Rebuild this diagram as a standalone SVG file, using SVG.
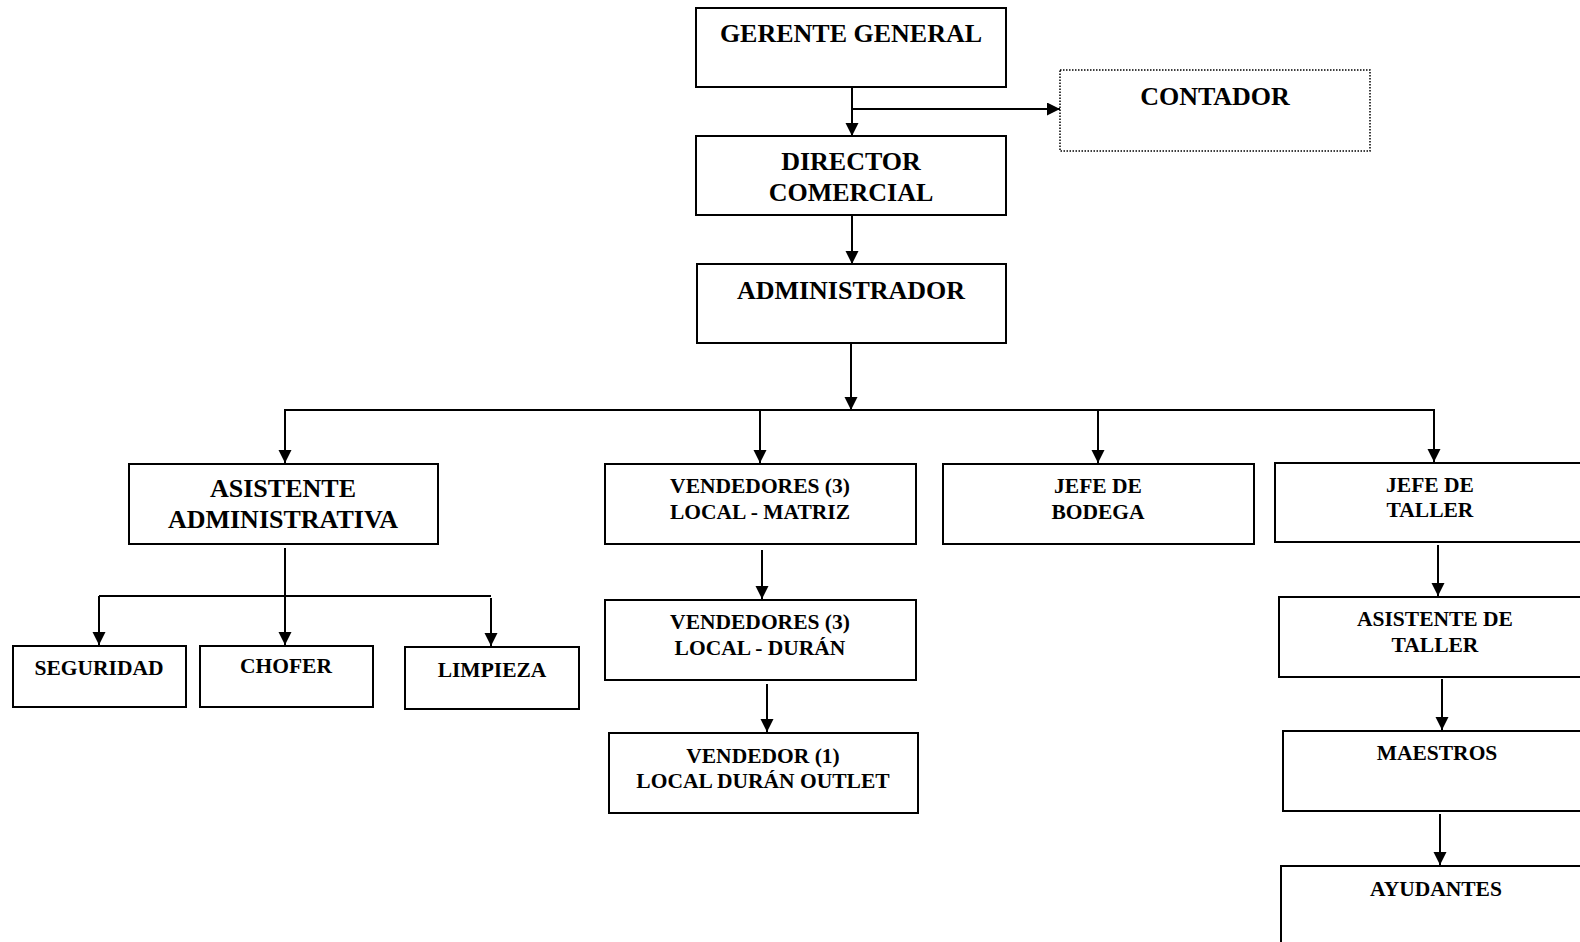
<svg xmlns="http://www.w3.org/2000/svg" width="1580" height="942" viewBox="0 0 1580 942">
<style>
.box{fill:#fff;stroke:#000;stroke-width:2}
.dot{fill:#fff;stroke:#000;stroke-width:1.5;stroke-dasharray:1.5 1.5}
text{font-family:"Liberation Serif","Times New Roman",serif;font-weight:bold;fill:#000;text-anchor:middle}
.L{font-size:26px}
.S{font-size:21.5px}
.c{fill:none;stroke:#000;stroke-width:2}
</style>
<defs>
<marker id="ah" markerUnits="userSpaceOnUse" markerWidth="14" markerHeight="14" refX="13" refY="6.5" orient="auto">
<path d="M0,0 L13,6.5 L0,13 z" fill="#000"/>
</marker>
</defs>
<rect width="1580" height="942" fill="#fff"/>
<g id="connectors">
<path class="c" d="M852,87 V136" marker-end="url(#ah)"/>
<path class="c" d="M852,109 H1060" marker-end="url(#ah)"/>
<path class="c" d="M852,215 V264" marker-end="url(#ah)"/>
<path class="c" d="M851,343 V410" marker-end="url(#ah)"/>
<path class="c" d="M284,410 H1435"/>
<path class="c" d="M285,410 V463" marker-end="url(#ah)"/>
<path class="c" d="M760,410 V463" marker-end="url(#ah)"/>
<path class="c" d="M1098,410 V463" marker-end="url(#ah)"/>
<path class="c" d="M1434,410 V462" marker-end="url(#ah)"/>
<path class="c" d="M285,548 V645" marker-end="url(#ah)"/>
<path class="c" d="M99,596 H491"/>
<path class="c" d="M99,596 V645" marker-end="url(#ah)"/>
<path class="c" d="M491,598 V646" marker-end="url(#ah)"/>
<path class="c" d="M762,550 V599" marker-end="url(#ah)"/>
<path class="c" d="M767,684 V732" marker-end="url(#ah)"/>
<path class="c" d="M1438,545 V596" marker-end="url(#ah)"/>
<path class="c" d="M1442,679 V730" marker-end="url(#ah)"/>
<path class="c" d="M1440,814 V865" marker-end="url(#ah)"/>
</g>
<g id="gerente"><rect class="box" x="696" y="8" width="310" height="79"/><text class="L" x="851" y="42">GERENTE GENERAL</text></g>
<g id="contador"><rect class="dot" x="1060" y="70" width="310" height="81"/><text class="L" x="1215" y="105">CONTADOR</text></g>
<g id="director"><rect class="box" x="696" y="136" width="310" height="79"/><text class="L" x="851" y="170">DIRECTOR</text><text class="L" x="851" y="201">COMERCIAL</text></g>
<g id="administrador"><rect class="box" x="697" y="264" width="309" height="79"/><text class="L" x="851" y="299">ADMINISTRADOR</text></g>
<g id="asistente-admin"><rect class="box" x="129" y="464" width="309" height="80"/><text class="L" x="283" y="497">ASISTENTE</text><text class="L" x="283" y="528">ADMINISTRATIVA</text></g>
<g id="seguridad"><rect class="box" x="13" y="646" width="173" height="61"/><text class="S" x="99" y="675">SEGURIDAD</text></g>
<g id="chofer"><rect class="box" x="200" y="646" width="173" height="61"/><text class="S" x="286" y="673">CHOFER</text></g>
<g id="limpieza"><rect class="box" x="405" y="647" width="174" height="62"/><text class="S" x="492" y="677">LIMPIEZA</text></g>
<g id="vend-matriz"><rect class="box" x="605" y="464" width="311" height="80"/><text class="S" x="760" y="493">VENDEDORES (3)</text><text class="S" x="760" y="519">LOCAL - MATRIZ</text></g>
<g id="vend-duran"><rect class="box" x="605" y="600" width="311" height="80"/><text class="S" x="760" y="629">VENDEDORES (3)</text><text class="S" x="760" y="655">LOCAL - DURÁN</text></g>
<g id="vend-outlet"><rect class="box" x="609" y="733" width="309" height="80"/><text class="S" x="763" y="763">VENDEDOR (1)</text><text class="S" x="763" y="788">LOCAL DURÁN OUTLET</text></g>
<g id="jefe-bodega"><rect class="box" x="943" y="464" width="311" height="80"/><text class="S" x="1098" y="493">JEFE DE</text><text class="S" x="1098" y="519">BODEGA</text></g>
<g id="jefe-taller"><rect class="box" x="1275" y="463" width="320" height="79"/><text class="S" x="1430" y="492">JEFE DE</text><text class="S" x="1430" y="517">TALLER</text></g>
<g id="asistente-taller"><rect class="box" x="1279" y="597" width="320" height="80"/><text class="S" x="1435" y="626">ASISTENTE DE</text><text class="S" x="1435" y="652">TALLER</text></g>
<g id="maestros"><rect class="box" x="1283" y="731" width="320" height="80"/><text class="S" x="1437" y="760">MAESTROS</text></g>
<g id="ayudantes"><rect class="box" x="1281" y="866" width="320" height="90"/><text class="S" x="1436" y="896">AYUDANTES</text></g>
</svg>
